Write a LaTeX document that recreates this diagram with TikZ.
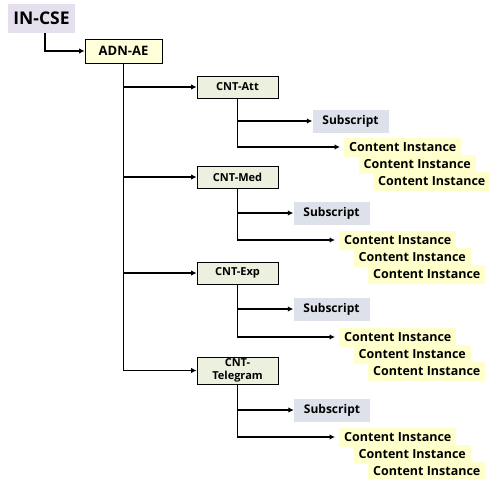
\documentclass[tikz,border=0pt]{standalone}
\usepackage{fontspec}
\setsansfont{Open Sans}
\usetikzlibrary{arrows.meta,positioning}
\definecolor{cselav}{HTML}{E6E0EE}
\definecolor{aeyel}{HTML}{FFFFD9}
\definecolor{cntgrn}{HTML}{EBF1DE}
\definecolor{subgry}{HTML}{DDE1EA}
\definecolor{ciyel}{HTML}{FFFFCC}
\tikzset{
  cse/.style={fill=cselav,minimum width=67pt,minimum height=29pt,inner sep=0pt,
    font=\sffamily\bfseries\fontsize{17.5}{18}\selectfont},
  aebox/.style={draw,line width=0.8pt,fill=aeyel,minimum width=77pt,minimum height=24pt,inner sep=0pt,
    font=\sffamily\bfseries\fontsize{13}{14}\selectfont},
  cntbox/.style={draw,line width=0.8pt,fill=cntgrn,minimum width=81pt,minimum height=22pt,inner sep=2pt,
    align=center,font=\sffamily\bfseries\fontsize{11}{12.5}\selectfont},
  subbox/.style={fill=subgry,minimum width=76pt,minimum height=23pt,inner sep=0pt,
    font=\sffamily\bfseries\fontsize{12}{13}\selectfont},
  cibox/.style={fill=ciyel,minimum height=19pt,inner xsep=5pt,inner ysep=0pt,
    font=\sffamily\bfseries\fontsize{12.5}{13}\selectfont},
  arr/.style={line width=1.8pt,-{Latex[length=5.5pt,width=5.5pt]}}
}
\begin{document}
\begin{tikzpicture}[x=1pt,y=-1pt]
  \useasboundingbox (0,0) rectangle (493,479);
  \node[cse] (incse) at (41.5,18.5) {IN-CSE};
  \node[aebox] (adnae) at (123.5,51) {ADN-AE};
  \draw[arr] ([xshift=3.5pt]incse.south) |- (adnae.west);
  \foreach \i/\cy/\lbl/\sx/\sy/\ciy/\cix in {1/87/CNT-Att/350.5/121/147/344,
      2/177/CNT-Med/331.5/213/240/339, 3/273/CNT-Exp/331.5/309/337/339,
      4/370.5/{CNT-\\Telegram}/332/410/437/339}{
    \node[cntbox] (cnt\i) at (237.5,\cy) {\lbl};
    \draw[arr] (adnae.south) |- (cnt\i.west);
    \node[subbox] (sub\i) at (\sx,\sy) {Subscript};
    \foreach \k in {0,1,2}
      \node[cibox,anchor=west] (ci\i\k) at (\cix+14.5*\k,\ciy+17*\k) {Content Instance};
    \draw[arr] (cnt\i.south) |- (sub\i.west);
    \draw[arr,shorten >=4pt] (cnt\i.south) |- (ci\i0.west);
  }
\end{tikzpicture}
\end{document}
